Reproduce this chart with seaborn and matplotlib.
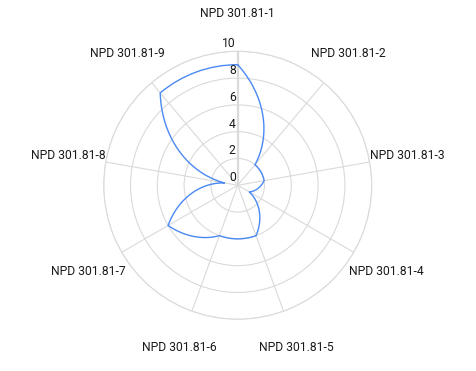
import numpy as np
import matplotlib
matplotlib.use('Agg')
import matplotlib.pyplot as plt
from matplotlib.transforms import offset_copy
import seaborn as sns

# data
categories = ['NPD 301.81-1', 'NPD 301.81-2', 'NPD 301.81-3', 'NPD 301.81-4', 'NPD 301.81-5',
              'NPD 301.81-6', 'NPD 301.81-7', 'NPD 301.81-8', 'NPD 301.81-9']
values = [9, 2, 2, 1, 4, 4, 6, 1, 9]
r_ticks = [0, 2, 4, 6, 8, 10]

sns.set_style('white')
plt.rcParams['font.family'] = ['Roboto', 'DejaVu Sans']

grid_col = '#dadada'
line_col = '#4a89f3'
fs = 8.7

n = len(categories)
theta = np.arange(n) * 2 * np.pi / n
theta_closed = np.append(theta, 2 * np.pi)
vals_closed = values + values[:1]

fig = plt.figure(figsize=(4.76, 3.71), dpi=100)
ax = fig.add_axes([0.2179, 0.1394, 0.563, 0.7224], projection='polar')
ax.set_theta_zero_location('N')
ax.set_theta_direction(-1)

sns.lineplot(x=theta_closed, y=vals_closed, ax=ax, sort=False, color=line_col, lw=1.0,
             estimator=None)
# let matplotlib draw the segments as polar curves, like the original
ax.lines[0].get_path()._interpolation_steps = 100

ax.set_ylim(0, 10)
ax.set_xticks(theta)
ax.set_xticklabels([])
ax.set_yticks(r_ticks)
ax.set_yticklabels([])
ax.grid(True, color=grid_col, lw=0.8)
ax.xaxis.get_gridlines()[0].set_linewidth(1.6)
ax.spines['polar'].set_color(grid_col)
ax.spines['polar'].set_linewidth(0.8)
ax.tick_params(length=0)

# category labels outside the circle
for t, lab in zip(theta, categories):
    ax.text(t, 12.85, lab, ha='center', va='center', fontsize=fs, color='#1a1a1a', clip_on=False)

# radial tick labels along the top axis
trans = offset_copy(ax.transData, fig=fig, x=-2, y=1, units='dots')
for r in r_ticks:
    ax.text(0, r, str(r), transform=trans, ha='right', va='bottom', fontsize=fs, color='#1a1a1a')

fig.savefig('out.png', dpi=100)
